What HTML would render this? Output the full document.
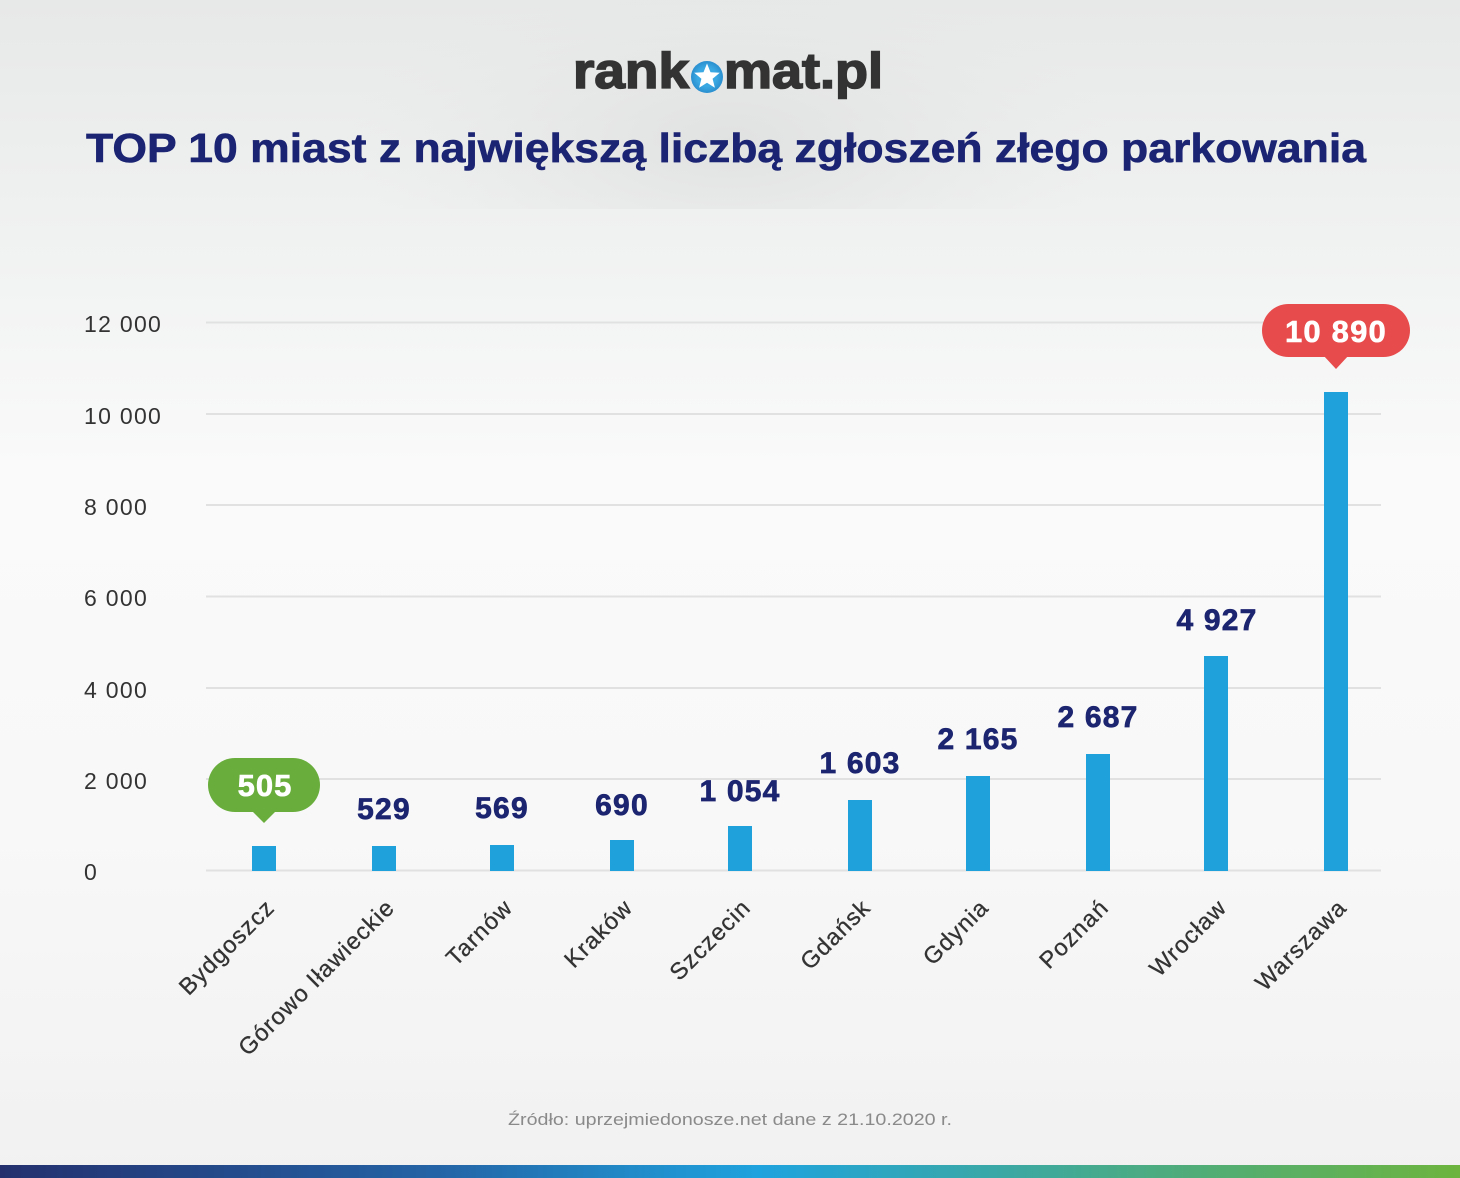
<!DOCTYPE html>
<html><head><meta charset="utf-8"><style>
html,body{margin:0;padding:0;}
body{width:1460px;height:1178px;overflow:hidden;}
svg{display:block;}
</style></head><body>
<svg width="1460" height="1178" viewBox="0 0 1460 1178" xmlns="http://www.w3.org/2000/svg" font-family="Liberation Sans, sans-serif">
<defs>
<linearGradient id="bg" x1="0" y1="0" x2="0" y2="1">
<stop offset="0" stop-color="#e7e8e8"/>
<stop offset="0.22" stop-color="#f1f2f2"/>
<stop offset="0.4" stop-color="#fafafa"/>
<stop offset="0.7" stop-color="#f8f8f8"/>
<stop offset="1" stop-color="#f1f1f1"/>
</linearGradient>
<radialGradient id="shade" cx="730" cy="140" r="380" gradientUnits="userSpaceOnUse" gradientTransform="translate(730 140) scale(1 0.45) translate(-730 -140)">
<stop offset="0" stop-color="#dfe0e0" stop-opacity="0.9"/>
<stop offset="1" stop-color="#e6e7e7" stop-opacity="0"/>
</radialGradient>
<linearGradient id="bar" x1="0" y1="0" x2="1" y2="0">
<stop offset="0" stop-color="#24306e"/>
<stop offset="0.3" stop-color="#2464a6"/>
<stop offset="0.52" stop-color="#1fa3de"/>
<stop offset="0.75" stop-color="#45aa8e"/>
<stop offset="1" stop-color="#6db43e"/>
</linearGradient>
<radialGradient id="star" cx="0.5" cy="0.5" r="0.5">
<stop offset="0.6" stop-color="#3aa8e2"/>
<stop offset="1" stop-color="#2b8fcf"/>
</radialGradient>
</defs>
<rect x="0" y="0" width="1460" height="1178" fill="url(#bg)"/>
<rect x="0" y="0" width="1460" height="209" fill="url(#shade)"/>

<!-- logo -->
<text x="573" y="88" font-size="50" font-weight="bold" fill="#333333" stroke="#333333" stroke-width="1.6" textLength="116" lengthAdjust="spacingAndGlyphs">rank</text>
<circle cx="707" cy="77" r="16" fill="url(#star)"/>
<polygon fill="#ffffff" points="707,63.5 710.5,72.2 719.8,72.8 712.6,78.8 714.9,87.8 707,82.8 699.1,87.8 701.4,78.8 694.2,72.8 703.5,72.2"/>
<text x="724" y="88" font-size="50" font-weight="bold" fill="#333333" stroke="#333333" stroke-width="1.6" textLength="159" lengthAdjust="spacingAndGlyphs">mat.pl</text>

<!-- title -->
<text x="86" y="162" font-size="41" font-weight="bold" fill="#1b2472" stroke="#1b2472" stroke-width="0.6" textLength="1280" lengthAdjust="spacingAndGlyphs">TOP 10 miast z największą liczbą zgłoszeń złego parkowania</text>

<!-- grid -->
<g stroke="#e1e1e1" stroke-width="2">
<line x1="206" y1="322.5" x2="1381" y2="322.5"/>
<line x1="206" y1="414" x2="1381" y2="414"/>
<line x1="206" y1="505" x2="1381" y2="505"/>
<line x1="206" y1="596.5" x2="1381" y2="596.5"/>
<line x1="206" y1="688" x2="1381" y2="688"/>
<line x1="206" y1="779" x2="1381" y2="779"/>
<line x1="206" y1="870.5" x2="1381" y2="870.5"/>
</g>

<!-- y labels -->
<g font-size="23" fill="#333333" letter-spacing="1.3">
<text x="84" y="332">12 000</text>
<text x="84" y="424">10 000</text>
<text x="84" y="515">8 000</text>
<text x="84" y="606">6 000</text>
<text x="84" y="698">4 000</text>
<text x="84" y="789">2 000</text>
<text x="84" y="880">0</text>
</g>

<!-- bars -->
<g fill="#1fa2dc">
<rect x="252" y="846" width="24" height="25"/>
<rect x="372" y="846" width="24" height="25"/>
<rect x="490" y="845" width="24" height="26"/>
<rect x="610" y="840" width="24" height="31"/>
<rect x="728" y="826" width="24" height="45"/>
<rect x="848" y="800" width="24" height="71"/>
<rect x="966" y="776" width="24" height="95"/>
<rect x="1086" y="754" width="24" height="117"/>
<rect x="1204" y="656" width="24" height="215"/>
<rect x="1324" y="392" width="24" height="479"/>
</g>

<!-- value labels -->
<g font-size="30" font-weight="bold" fill="#1c2570" stroke="#1c2570" stroke-width="0.7" text-anchor="middle" letter-spacing="1.2">
<text x="384" y="819">529</text>
<text x="502" y="818">569</text>
<text x="622" y="815">690</text>
<text x="740" y="801">1 054</text>
<text x="860" y="773">1 603</text>
<text x="978" y="749">2 165</text>
<text x="1098" y="727">2 687</text>
<text x="1217" y="630">4 927</text>
</g>

<!-- bubbles -->
<rect x="208" y="758" width="112" height="54" rx="27" fill="#69ae3c"/>
<polygon points="251,810 277,810 264,823" fill="#69ae3c"/>
<text x="265" y="796" font-size="31" font-weight="bold" fill="#ffffff" stroke="#ffffff" stroke-width="0.6" text-anchor="middle" letter-spacing="1">505</text>

<rect x="1262" y="304" width="148" height="53" rx="26.5" fill="#e84b4b"/>
<polygon points="1323,355 1349,355 1336,369" fill="#e84b4b"/>
<text x="1336" y="342" font-size="31" font-weight="bold" fill="#ffffff" stroke="#ffffff" stroke-width="0.6" text-anchor="middle" letter-spacing="1.2">10 890</text>

<!-- category labels -->
<g font-size="23.5" fill="#333333" stroke="#333333" stroke-width="0.3" text-anchor="end" letter-spacing="1.1">
<text transform="translate(276 909) rotate(-45)">Bydgoszcz</text>
<text transform="translate(396 909) rotate(-45)">Górowo Iławieckie</text>
<text transform="translate(514 909) rotate(-45)">Tarnów</text>
<text transform="translate(634 909) rotate(-45)">Kraków</text>
<text transform="translate(752 909) rotate(-45)">Szczecin</text>
<text transform="translate(872 909) rotate(-45)">Gdańsk</text>
<text transform="translate(990 909) rotate(-45)">Gdynia</text>
<text transform="translate(1110 909) rotate(-45)">Poznań</text>
<text transform="translate(1228 909) rotate(-45)">Wrocław</text>
<text transform="translate(1348 909) rotate(-45)">Warszawa</text>
</g>

<!-- footer -->
<text x="730" y="1125" font-size="17" fill="#8a8a8a" text-anchor="middle" textLength="444" lengthAdjust="spacingAndGlyphs">Źródło: uprzejmiedonosze.net dane z 21.10.2020 r.</text>
<rect x="0" y="1165" width="1460" height="13" fill="url(#bar)"/>
</svg>
</body></html>
